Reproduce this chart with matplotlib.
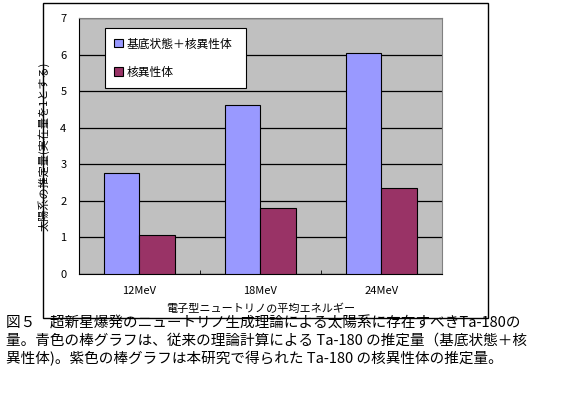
import matplotlib.pyplot as plt
import numpy as np
from matplotlib.patches import Rectangle

plt.rcParams['font.family'] = ['Noto Sans CJK JP', 'DejaVu Sans']

categories = ['12MeV', '18MeV', '24MeV']
total = [2.75, 4.61, 6.03]      # 基底状態＋核異性体
isomer = [1.06, 1.80, 2.34]     # 核異性体
series_labels = ['基底状態＋核異性体', '核異性体']
ylabel = '太陽系の推定量(実在量を1とする)'
xlabel = '電子型ニュートリノの平均エネルギー'
caption = [
    '図５　超新星爆発のニュートリノ生成理論による太陽系に存在すべきTa-180の',
    '量。青色の棒グラフは、従来の理論計算による Ta-180 の推定量（基底状態＋核',
    '異性体)。紫色の棒グラフは本研究で得られた Ta-180 の核異性体の推定量。',
]

fig = plt.figure(figsize=(5.85, 3.97), dpi=100)
fig.patches.append(Rectangle((0.0735, 0.199), 0.7605, 0.793, transform=fig.transFigure,
                             fill=False, edgecolor='black', linewidth=1))

ax = fig.add_axes([0.135, 0.31, 0.6205, 0.6447])
ax.set_facecolor('#C0C0C0')
x = np.arange(len(categories))
w = 0.29
ax.bar(x - w / 2, total, w, color='#9999FF', edgecolor='black', linewidth=0.8,
       label=series_labels[0], zorder=3)
ax.bar(x + w / 2, isomer, w, color='#993366', edgecolor='black', linewidth=0.8,
       label=series_labels[1], zorder=3)

ax.set_xlim(-0.5, 2.5)
ax.set_ylim(0, 7)
ax.set_yticks(range(8))
ax.yaxis.grid(True, color='black', linewidth=0.9, zorder=1)
ax.set_axisbelow(True)
ax.tick_params(axis='y', length=0, labelsize=8, pad=9)
ax.set_xticks(x)
ax.set_xticklabels(categories, fontsize=8)
ax.tick_params(axis='x', length=0, pad=9)
ax.set_xticks([0.5, 1.5], minor=True)
ax.tick_params(axis='x', which='minor', direction='in', length=3, color='black')
for s in ['top', 'right']:
    ax.spines[s].set_color('#808080')
for s in ['left', 'bottom']:
    ax.spines[s].set_color('black')

ax.set_xlabel(xlabel, fontsize=8, labelpad=5)
ax.set_ylabel(ylabel, fontsize=8, labelpad=8)

leg = ax.legend(loc='upper left', bbox_to_anchor=(0.0716, 0.731, 0.3876, 0.23), mode='expand',
                fontsize=8.5, frameon=True, fancybox=False, framealpha=1, edgecolor='black',
                handlelength=0.7, handleheight=0.7, handletextpad=0.3, labelspacing=1.3,
                borderpad=0.8, borderaxespad=0)
leg.get_frame().set_linewidth(0.8)

for i, line in enumerate(caption):
    fig.text(0.01, 0.186 - i * 0.045, line, fontsize=10.5, va='center', ha='left')

fig.savefig('out.png', dpi=100)
